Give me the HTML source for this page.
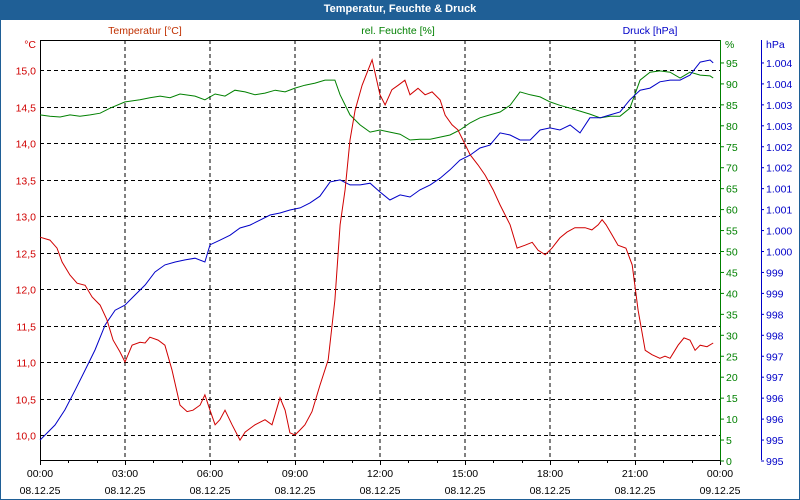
<!DOCTYPE html>
<html><head><meta charset="utf-8">
<style>
html,body{margin:0;padding:0;background:#fff;}
#wrap{position:relative;width:800px;height:500px;box-sizing:border-box;border:1px solid #1f5f96;border-top:none;overflow:hidden;font-family:"Liberation Sans",sans-serif;}
#title{position:absolute;left:0;top:0;width:798px;height:20px;background:#1f5f96;color:#fff;font-size:11px;font-weight:bold;text-align:center;line-height:19px;}
svg{position:absolute;left:-1px;top:0;}
</style></head><body>
<div id="wrap">
<div id="title">Temperatur, Feuchte &amp; Druck</div>
<svg id="chart" width="800" height="500"></svg>
</div>
<script>
const tempHours=[0,.35,.6,.78,1.06,1.31,1.59,1.84,2.12,2.36,2.58,2.82,3,3.25,3.53,3.71,3.88,4.17,4.41,4.66,4.94,5.19,5.4,5.65,5.82,6,6.18,6.35,6.53,6.78,7.06,7.24,7.59,7.94,8.19,8.47,8.65,8.82,9,9.18,9.35,9.6,9.88,10.17,10.41,10.59,10.77,10.94,11.12,11.37,11.72,12,12.18,12.42,12.64,12.88,13.06,13.34,13.59,13.84,14.12,14.3,14.54,14.75,14.93,15.18,15.46,15.71,15.99,16.24,16.59,16.84,17.12,17.37,17.58,17.83,18.07,18.35,18.6,18.88,19.24,19.48,19.7,19.84,19.98,20.19,20.4,20.68,20.9,21.11,21.36,21.6,21.88,22.06,22.24,22.52,22.73,22.94,23.12,23.3,23.54,23.76];
const tempValues=[12.71,12.67,12.56,12.37,12.19,12.08,12.05,11.89,11.78,11.58,11.3,11.14,11,11.23,11.27,11.26,11.34,11.3,11.23,10.89,10.41,10.32,10.34,10.41,10.55,10.34,10.14,10.21,10.34,10.14,9.93,10.04,10.14,10.21,10.14,10.51,10.34,10.03,10,10.07,10.14,10.32,10.68,11.03,11.85,12.88,13.36,14.04,14.45,14.79,15.14,14.66,14.52,14.73,14.79,14.86,14.66,14.75,14.66,14.7,14.59,14.38,14.25,14.18,14.04,13.84,13.7,13.56,13.36,13.15,12.88,12.56,12.6,12.64,12.53,12.47,12.56,12.7,12.78,12.84,12.84,12.81,12.88,12.95,12.88,12.74,12.6,12.56,12.33,11.71,11.16,11.1,11.05,11.08,11.05,11.23,11.33,11.3,11.16,11.23,11.21,11.26];
const humHours=[0,.35,.71,1.06,1.41,1.77,2.12,2.47,3,3.53,3.88,4.24,4.59,4.94,5.47,5.82,6.18,6.53,6.88,7.24,7.59,7.94,8.3,8.65,9,9.35,9.71,10.06,10.41,10.59,10.94,11.3,11.65,12,12.35,12.71,13.06,13.41,13.77,14.12,14.47,14.82,15.18,15.53,15.88,16.24,16.59,16.94,17.3,17.65,18,18.35,18.71,19.06,19.41,19.77,20.12,20.47,20.82,21.18,21.53,21.88,22.24,22.59,22.94,23.3,23.65,23.76];
const humValues=[82.6,82.3,82.1,82.6,82.3,82.6,83,84.2,85.7,86.2,86.7,87.1,86.7,87.6,87.1,86.2,87.6,87.1,88.5,88.1,87.4,87.8,88.5,88.1,89,89.7,90.2,90.9,90.9,87.4,82.6,80.2,78.5,79,78.5,78,76.6,76.8,76.8,77.3,77.8,79,80.7,81.9,82.6,83.3,84.9,88.1,87.4,86.9,85.7,84.9,84.2,83.5,82.8,81.9,82.3,82.3,84.2,90.9,92.8,93.1,92.8,91.4,92.8,92.1,91.9,91.4];
const presHours=[0,.18,.53,.88,1.24,1.59,1.94,2.3,2.65,3,3.35,3.71,4.06,4.41,4.77,5.12,5.47,5.82,6,6.35,6.71,7.06,7.41,7.77,8.12,8.47,8.82,9.18,9.53,9.88,10.24,10.59,10.94,11.3,11.65,12,12.35,12.71,13.06,13.41,13.77,14.12,14.47,14.82,15.18,15.53,15.88,16.24,16.59,16.94,17.3,17.65,18,18.35,18.71,19.06,19.41,19.77,20.12,20.47,20.82,21.18,21.53,21.88,22.24,22.59,22.94,23.3,23.65,23.76];
const presValues=[995.5,995.62,995.86,996.22,996.69,997.17,997.65,998.25,998.6,998.72,998.96,999.2,999.51,999.68,999.75,999.8,999.84,999.75,1000.16,1000.27,1000.39,1000.56,1000.63,1000.75,1000.87,1000.92,1000.99,1001.04,1001.16,1001.32,1001.66,1001.71,1001.59,1001.59,1001.63,1001.42,1001.23,1001.35,1001.3,1001.47,1001.59,1001.75,1001.95,1002.18,1002.3,1002.47,1002.54,1002.83,1002.78,1002.66,1002.66,1002.9,1002.95,1002.9,1003.02,1002.83,1003.19,1003.19,1003.26,1003.33,1003.62,1003.85,1003.9,1004.05,1004.09,1004.09,1004.21,1004.52,1004.57,1004.5];
const tempTicks=["10,0","10,5","11,0","11,5","12,0","12,5","13,0","13,5","14,0","14,5","15,0"];
const humTicks=["0","5","10","15","20","25","30","35","40","45","50","55","60","65","70","75","80","85","90","95"];
const presTicks=["995","995","996","996","997","997","998","998","999","999","1.000","1.000","1.001","1.001","1.002","1.002","1.003","1.003","1.004","1.004"];
const timeTicks=["00:00","03:00","06:00","09:00","12:00","15:00","18:00","21:00","00:00"];
const dateTicks=["08.12.25","08.12.25","08.12.25","08.12.25","08.12.25","08.12.25","08.12.25","08.12.25","09.12.25"];

const L=40,R=720,T=40,B=460;
const FS=10.5;
const xS=h=>L+h*(R-L)/24;
const yT=t=>70+(15-t)*73;
const yH=v=>461-v*4.19;
const yP=p=>461-(p-995)*41.9;
const svg=document.getElementById('chart');
const NS='http://www.w3.org/2000/svg';
function mk(tag,attrs,txt){const e=document.createElementNS(NS,tag);for(const k in attrs)e.setAttribute(k,attrs[k]);if(txt!==undefined)e.textContent=txt;svg.appendChild(e);return e;}
const RED='#d00000',GRN='#008000',BLU='#0000c8';

for(let i=1;i<8;i++){const g=mk('line',{x1:xS(i*3),x2:xS(i*3),y1:T,y2:B,stroke:'#000','stroke-dasharray':'4,3','stroke-width':1});

}
tempTicks.forEach((lab,i)=>{const v=10+i*0.5;const y=Math.round(yT(v))+0.5;
const g=mk('line',{x1:L,x2:R,y1:y,y2:y,stroke:'#000','stroke-dasharray':'4,3','stroke-width':1});


const t=mk('text',{x:36,y:y+4,'text-anchor':'end','font-size':FS,fill:RED},lab);

});
const fr=mk('path',{d:`M${L+.5},${T+.5}H${R}M${L+.5},${T}V${B+.5}H${R}`,stroke:'#000',fill:'none'});


for(let h=0;h<=24;h++){const x=Math.round(xS(h))+.5;const tk=mk('line',{x1:x,x2:x,y1:B,y2:B+(h%3?3:5),stroke:'#000'});

}
timeTicks.forEach((lab,i)=>{const x=xS(i*3);
const a=mk('text',{x:x,y:477,'text-anchor':'middle','font-size':FS,fill:'#000'},lab);


const b=mk('text',{x:x,y:494,'text-anchor':'middle','font-size':FS,fill:'#000'},dateTicks[i]);

});
const ha=mk('line',{x1:720.5,x2:720.5,y1:T,y2:B,stroke:GRN});


humTicks.forEach((lab,i)=>{const y=yH(i*5);
const tk=mk('line',{x1:720,x2:724,y1:y,y2:y,stroke:GRN});


const t=mk('text',{x:726,y:y+4,'font-size':FS,fill:GRN},lab);

});
const pa=mk('line',{x1:761.5,x2:761.5,y1:T,y2:B,stroke:BLU});


presTicks.forEach((lab,i)=>{const y=yP(995+i*0.5);
const tk=mk('line',{x1:761,x2:764,y1:y,y2:y,stroke:BLU});


const t=mk('text',{x:766,y:y+4,'font-size':FS,fill:BLU},lab);

});
[[36,48,'end',RED,'°C','temp-unit'],[725,48,'start',GRN,'%','humidity-unit'],[766,48,'start',BLU,'hPa','pressure-unit'],
 [145,34,'middle','#c03000','Temperatur [°C]','temp-axis-title'],[398,34,'middle',GRN,'rel. Feuchte [%]','humidity-axis-title'],[650,34,'middle',BLU,'Druck [hPa]','pressure-axis-title']].forEach(d=>{
const t=mk('text',{x:d[0],y:d[1],'text-anchor':d[2],'font-size':FS,fill:d[3]},d[4]);

});
function line(hours,vals,yf,col,name){const pts=hours.map((h,i)=>xS(h).toFixed(1)+','+yf(vals[i]).toFixed(1)).join(' ');
const p=mk('polyline',{points:pts,fill:'none',stroke:col,'stroke-width':1});

}
line(humHours,humValues,yH,GRN,'humidity-line');
line(presHours,presValues,yP,BLU,'pressure-line');
line(tempHours,tempValues,yT,RED,'temperature-line');
</script>
</body></html>
